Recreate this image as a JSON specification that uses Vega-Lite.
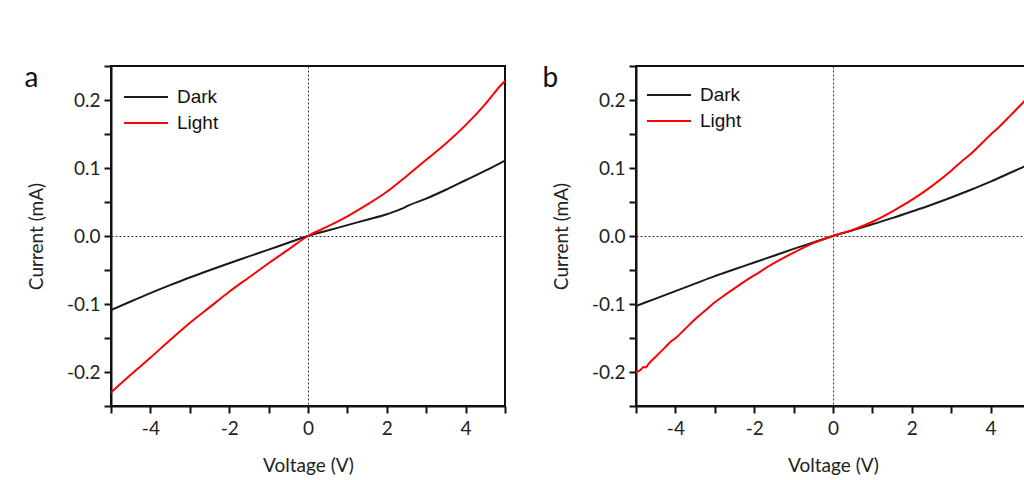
{
  "$schema": "https://vega.github.io/schema/vega-lite/v6.json",
  "background": "white",
  "padding": {"left": 23, "top": 64, "right": 0, "bottom": 0},
  "datasets": {
    "a": [
      {"V": -5, "I": -0.109, "s": "Dark"}, {"V": -4.5, "I": -0.0963, "s": "Dark"}, {"V": -4, "I": -0.084, "s": "Dark"}, {"V": -3.5, "I": -0.0723, "s": "Dark"}, {"V": -3, "I": -0.061, "s": "Dark"}, {"V": -2.5, "I": -0.0503, "s": "Dark"}, {"V": -2, "I": -0.04, "s": "Dark"}, {"V": -1.5, "I": -0.03, "s": "Dark"}, {"V": -1, "I": -0.02, "s": "Dark"}, {"V": -0.5, "I": -0.01, "s": "Dark"}, {"V": 0, "I": 0, "s": "Dark"}, {"V": 0.5, "I": 0.008, "s": "Dark"}, {"V": 1, "I": 0.016, "s": "Dark"}, {"V": 1.5, "I": 0.024, "s": "Dark"}, {"V": 2, "I": 0.032, "s": "Dark"}, {"V": 2.4, "I": 0.0405, "s": "Dark"}, {"V": 2.5, "I": 0.0435, "s": "Dark"}, {"V": 3, "I": 0.055, "s": "Dark"}, {"V": 3.5, "I": 0.068, "s": "Dark"}, {"V": 4, "I": 0.082, "s": "Dark"}, {"V": 4.5, "I": 0.096, "s": "Dark"}, {"V": 5, "I": 0.111, "s": "Dark"},
      {"V": -5, "I": -0.23, "s": "Light"}, {"V": -4.5, "I": -0.204, "s": "Light"}, {"V": -4, "I": -0.179, "s": "Light"}, {"V": -3.5, "I": -0.153, "s": "Light"}, {"V": -3, "I": -0.128, "s": "Light"}, {"V": -2.5, "I": -0.105, "s": "Light"}, {"V": -2, "I": -0.082, "s": "Light"}, {"V": -1.5, "I": -0.061, "s": "Light"}, {"V": -1, "I": -0.04, "s": "Light"}, {"V": -0.5, "I": -0.02, "s": "Light"}, {"V": 0, "I": 0, "s": "Light"}, {"V": 0.5, "I": 0.014, "s": "Light"}, {"V": 1, "I": 0.029, "s": "Light"}, {"V": 1.5, "I": 0.046, "s": "Light"}, {"V": 2, "I": 0.065, "s": "Light"}, {"V": 2.5, "I": 0.088, "s": "Light"}, {"V": 3, "I": 0.112, "s": "Light"}, {"V": 3.5, "I": 0.136, "s": "Light"}, {"V": 4, "I": 0.163, "s": "Light"}, {"V": 4.5, "I": 0.194, "s": "Light"}, {"V": 4.9, "I": 0.222, "s": "Light"}, {"V": 5, "I": 0.228, "s": "Light"}
    ],
    "b": [
      {"V": -5, "I": -0.103, "s": "Dark"}, {"V": -4.5, "I": -0.092, "s": "Dark"}, {"V": -4, "I": -0.081, "s": "Dark"}, {"V": -3.5, "I": -0.07, "s": "Dark"}, {"V": -3, "I": -0.059, "s": "Dark"}, {"V": -2.5, "I": -0.049, "s": "Dark"}, {"V": -2, "I": -0.039, "s": "Dark"}, {"V": -1.5, "I": -0.029, "s": "Dark"}, {"V": -1, "I": -0.019, "s": "Dark"}, {"V": -0.5, "I": -0.0095, "s": "Dark"}, {"V": 0, "I": 0, "s": "Dark"}, {"V": 0.5, "I": 0.0085, "s": "Dark"}, {"V": 1, "I": 0.0172, "s": "Dark"}, {"V": 1.5, "I": 0.0263, "s": "Dark"}, {"V": 2, "I": 0.036, "s": "Dark"}, {"V": 2.5, "I": 0.046, "s": "Dark"}, {"V": 3, "I": 0.0567, "s": "Dark"}, {"V": 3.5, "I": 0.068, "s": "Dark"}, {"V": 4, "I": 0.08, "s": "Dark"}, {"V": 4.5, "I": 0.093, "s": "Dark"}, {"V": 5, "I": 0.106, "s": "Dark"},
      {"V": -5, "I": -0.2, "s": "Light"}, {"V": -4.9, "I": -0.1975, "s": "Light"}, {"V": -4.8, "I": -0.1928, "s": "Light"}, {"V": -4.75, "I": -0.1932, "s": "Light"}, {"V": -4.7, "I": -0.1895, "s": "Light"}, {"V": -4.5, "I": -0.1775, "s": "Light"}, {"V": -4.25, "I": -0.163, "s": "Light"}, {"V": -4.1, "I": -0.1545, "s": "Light"}, {"V": -4, "I": -0.1505, "s": "Light"}, {"V": -3.9, "I": -0.145, "s": "Light"}, {"V": -3.75, "I": -0.1365, "s": "Light"}, {"V": -3.5, "I": -0.1225, "s": "Light"}, {"V": -3.25, "I": -0.11, "s": "Light"}, {"V": -3, "I": -0.0975, "s": "Light"}, {"V": -2.75, "I": -0.087, "s": "Light"}, {"V": -2.5, "I": -0.077, "s": "Light"}, {"V": -2.25, "I": -0.067, "s": "Light"}, {"V": -2, "I": -0.058, "s": "Light"}, {"V": -1.5, "I": -0.04, "s": "Light"}, {"V": -1, "I": -0.0245, "s": "Light"}, {"V": -0.5, "I": -0.0105, "s": "Light"}, {"V": 0, "I": 0, "s": "Light"}, {"V": 0.5, "I": 0.009, "s": "Light"}, {"V": 1, "I": 0.021, "s": "Light"}, {"V": 1.5, "I": 0.036, "s": "Light"}, {"V": 2, "I": 0.053, "s": "Light"}, {"V": 2.5, "I": 0.073, "s": "Light"}, {"V": 3, "I": 0.096, "s": "Light"}, {"V": 3.3, "I": 0.1115, "s": "Light"}, {"V": 3.5, "I": 0.121, "s": "Light"}, {"V": 4, "I": 0.149, "s": "Light"}, {"V": 4.2, "I": 0.1595, "s": "Light"}, {"V": 4.5, "I": 0.177, "s": "Light"}, {"V": 5, "I": 0.207, "s": "Light"}
    ]
  },
  "spacing": 34,
  "resolve": {"legend": {"color": "independent"}},
  "hconcat": [
    {
      "width": 394,
      "height": 340,
      "title": {"text": "a", "dx": -3, "dy": 32},
      "data": {"name": "a"},
      "mark": {"type": "line", "strokeWidth": 2, "interpolate": "monotone", "clip": true},
      "encoding": {
        "x": {"field": "V", "type": "quantitative", "title": "Voltage (V)", "scale": {"domain": [-5, 5], "nice": false},
          "axis": {"values": [-5, -4, -3, -2, -1, 0, 1, 2, 3, 4, 5], "labelExpr": "datum.value % 2 == 0 ? (datum.value < 0 ? '-' : '') + abs(datum.value) : ''",
            "encode": {"ticks": {"update": {"y2": {"signal": "datum.value % 2 == 0 ? 7 : 4"}}}}}},
        "y": {"field": "I", "type": "quantitative", "title": "Current (mA)", "scale": {"domain": [-0.25, 0.25], "nice": false},
          "axis": {"values": [-0.25, -0.2, -0.15, -0.1, -0.05, 0, 0.05, 0.1, 0.15, 0.2, 0.25], "labelExpr": "abs(datum.value*10 - round(datum.value*10)) < 0.001 ? ((datum.value < -0.001 ? '-' : '') + format(abs(datum.value), '.1f')) : ''",
            "encode": {"ticks": {"update": {"x2": {"signal": "abs(datum.value*10 - round(datum.value*10)) < 0.001 ? -7 : -4"}}}}}},
        "color": {"field": "s", "type": "nominal", "scale": {"domain": ["Dark", "Light"], "range": ["#1a1a1a", "#ff0000"]},
          "legend": {"title": null, "orient": "none", "legendX": 23, "legendY": 19}}
      }
    },
    {
      "width": 394,
      "height": 340,
      "title": {"text": "b", "dx": -10, "dy": 32},
      "data": {"name": "b"},
      "mark": {"type": "line", "strokeWidth": 2, "interpolate": "monotone", "clip": true},
      "encoding": {
        "x": {"field": "V", "type": "quantitative", "title": "Voltage (V)", "scale": {"domain": [-5, 5], "nice": false},
          "axis": {"values": [-5, -4, -3, -2, -1, 0, 1, 2, 3, 4, 5], "labelExpr": "datum.value % 2 == 0 ? (datum.value < 0 ? '-' : '') + abs(datum.value) : ''",
            "encode": {"ticks": {"update": {"y2": {"signal": "datum.value % 2 == 0 ? 7 : 4"}}}}}},
        "y": {"field": "I", "type": "quantitative", "title": "Current (mA)", "scale": {"domain": [-0.25, 0.25], "nice": false},
          "axis": {"values": [-0.25, -0.2, -0.15, -0.1, -0.05, 0, 0.05, 0.1, 0.15, 0.2, 0.25], "labelExpr": "abs(datum.value*10 - round(datum.value*10)) < 0.001 ? ((datum.value < -0.001 ? '-' : '') + format(abs(datum.value), '.1f')) : ''",
            "encode": {"ticks": {"update": {"x2": {"signal": "abs(datum.value*10 - round(datum.value*10)) < 0.001 ? -7 : -4"}}}}}},
        "color": {"field": "s", "type": "nominal", "scale": {"domain": ["Dark", "Light"], "range": ["#1a1a1a", "#ff0000"]},
          "legend": {"title": null, "orient": "none", "legendX": 21, "legendY": 17}}
      }
    }
  ],
  "config": {
    "view": {"stroke": "#111", "strokeWidth": 2},
    "axis": {"grid": true, "gridColor": "#333", "gridWidth": 1, "gridDash": [2, 2],
      "gridOpacity": {"condition": {"test": "abs(datum.value) < 0.0001", "value": 1}, "value": 0},
      "domainColor": "#111", "domainWidth": 2, "tickColor": "#111", "tickWidth": 2, "tickSize": 7,
      "labelFont": "Lato", "labelFontSize": 19, "labelColor": "#222", "labelPadding": 4,
      "titleFont": "Lato", "titleFontSize": 19, "titleFontWeight": "normal", "titleColor": "#222"},
    "axisX": {"labelPadding": 6, "titlePadding": 18},
    "axisY": {"titlePadding": 20},
    "legend": {"labelFont": "Liberation Sans", "labelFontSize": 19, "labelColor": "#111", "symbolType": "M-2,0H2", "symbolSize": 484, "symbolStrokeWidth": 2, "labelOffset": 19, "rowPadding": 4, "padding": 0},
    "title": {"anchor": "start", "frame": "bounds", "font": "Lato", "fontSize": 28, "fontWeight": "normal", "color": "#111", "offset": 0}
  }
}
